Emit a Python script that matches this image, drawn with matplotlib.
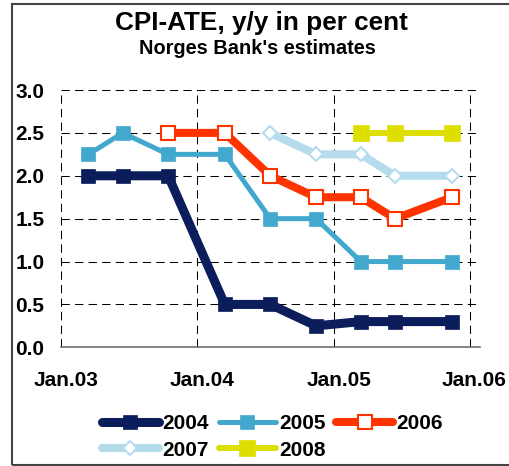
import datetime as dt

import matplotlib
matplotlib.use("Agg")
import matplotlib.dates as mdates
import matplotlib.pyplot as plt
import matplotlib.transforms as mtransforms
from matplotlib.patches import Rectangle

plt.rcParams["font.family"] = ["Liberation Sans", "DejaVu Sans"]
plt.rcParams["font.weight"] = "bold"

# Report dates (mid-month) and the estimates published in each report
report_dates = [
    dt.date(2003, 3, 15), dt.date(2003, 6, 15), dt.date(2003, 10, 15),
    dt.date(2004, 3, 15), dt.date(2004, 7, 15), dt.date(2004, 11, 15),
    dt.date(2005, 3, 15), dt.date(2005, 6, 15), dt.date(2005, 11, 15),
]
est_2004 = [2.0, 2.0, 2.0, 0.5, 0.5, 0.25, 0.3, 0.3, 0.3]
est_2005 = [2.25, 2.5, 2.25, 2.25, 1.5, 1.5, 1.0, 1.0, 1.0]
est_2006 = [None, None, 2.5, 2.5, 2.0, 1.75, 1.75, 1.5, 1.75]
est_2007 = [None, None, None, None, 2.5, 2.25, 2.25, 2.0, 2.0]
est_2008 = [None, None, None, None, None, None, 2.5, 2.5, 2.5]

year_ticks = [dt.date(2003, 1, 1), dt.date(2004, 1, 1), dt.date(2005, 1, 1), dt.date(2006, 1, 1)]
year_labels = ["Jan.03", "Jan.04", "Jan.05", "Jan.06"]
y_ticks = [0.0, 0.5, 1.0, 1.5, 2.0, 2.5, 3.0]


def pairs(values):
    """Drop the report dates where a series has no estimate."""
    pts = [(d, v) for d, v in zip(report_dates, values) if v is not None]
    return [p[0] for p in pts], [p[1] for p in pts]


fig = plt.figure(figsize=(5.09, 4.66), dpi=100)
ax = fig.add_axes([0.1204, 0.2547, 0.8226, 0.5521])

styles = [
    ("2004", est_2004, dict(color="#0B1D5A", lw=6.5, marker="s", ms=10.5,
                            mfc="#0B1D5A", mec="#0B1D5A", mew=0.5)),
    ("2005", est_2005, dict(color="#42A8CE", lw=3.6, marker="s", ms=10.5,
                            mfc="#42A8CE", mec="#42A8CE", mew=0.5)),
    ("2006", est_2006, dict(color="#FF3300", lw=5.8, marker="s", ms=9.5,
                            mfc="white", mec="#FF3300", mew=1.5)),
    ("2007", est_2007, dict(color="#B4DCEC", lw=5.8, marker="D", ms=7,
                            mfc="white", mec="#B4DCEC", mew=1.5)),
    ("2008", est_2008, dict(color="#DEDE00", lw=4.3, marker="s", ms=11,
                            mfc="#DEDE00", mec="#DEDE00", mew=0.5)),
]

handles = {}
for label, vals, kw in styles:
    xs, ys = pairs(vals)
    (ln,) = ax.plot(xs, ys, label=label, solid_capstyle="round", **kw)
    handles[label] = ln

ax.set_xlim(dt.date(2003, 1, 1), dt.date(2006, 1, 29))
ax.set_ylim(0, 3.0)
ax.set_xticks(year_ticks)
ax.set_xticklabels(year_labels)
ax.set_yticks(y_ticks)
ax.set_yticklabels([f"{v:.1f}" for v in y_ticks])
ax.tick_params(axis="both", length=0, labelsize=15)
ax.tick_params(axis="y", pad=12)
ax.tick_params(axis="x", pad=17)

offset = mtransforms.ScaledTranslation(5 / 100, 0, fig.dpi_scale_trans)
for lbl in ax.get_xticklabels():
    lbl.set_transform(lbl.get_transform() + offset)

ax.grid(True, color="black", linestyle=(0, (8, 5)), linewidth=0.75)
ax.set_axisbelow(True)
for side in ["left", "right", "top"]:
    ax.spines[side].set_visible(False)
ax.spines["bottom"].set_color("#707070")
ax.spines["bottom"].set_linewidth(1.2)

fig.text(0.514, 0.935, "CPI-ATE, y/y in per cent", ha="center", va="baseline",
         fontsize=18.8, fontweight="bold")
fig.text(0.506, 0.884, "Norges Bank's estimates", ha="center", va="baseline",
         fontsize=14.4, fontweight="bold")

order = ["2004", "2007", "2005", "2008", "2006"]
fig.legend([handles[k] for k in order], order, ncol=3, loc="upper left",
           bbox_to_anchor=(0.2, 0.112), frameon=False, fontsize=15,
           numpoints=1, handlelength=2.74, handletextpad=0.15,
           columnspacing=0.5, labelspacing=0.38, borderpad=0, borderaxespad=0)

# Outer frame round the chart
fig.add_artist(Rectangle((0.023, 0.002), 1.2, 0.9895, transform=fig.transFigure,
                         fill=False, edgecolor="#444444", linewidth=1.5))

fig.savefig("out.png", dpi=100)
